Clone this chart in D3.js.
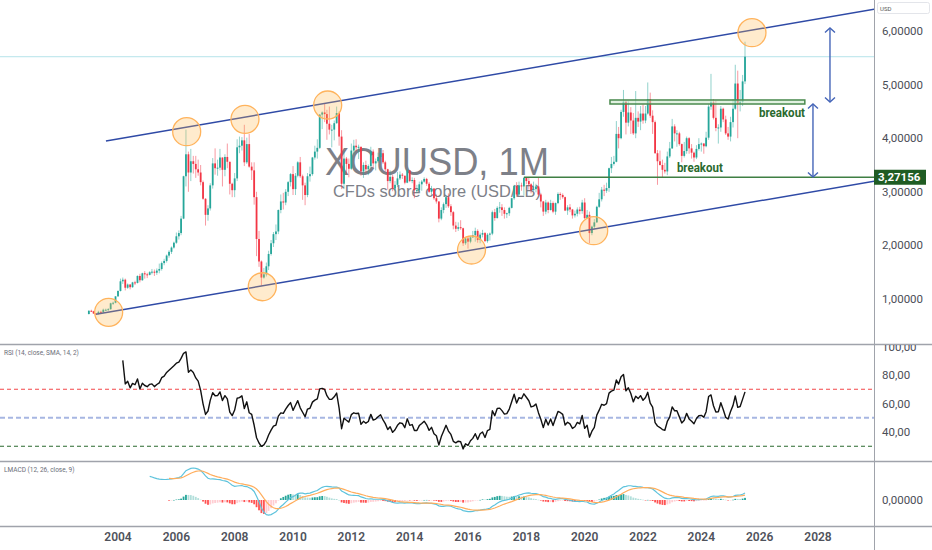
<!DOCTYPE html>
<html><head><meta charset="utf-8">
<script src="https://cdn.jsdelivr.net/npm/d3@7"></script>
<style>html,body{margin:0;padding:0;background:#fff;overflow:hidden}svg{display:block}</style>
</head><body><svg id="c" width="932" height="550"></svg>
<script>
// ---------- DATA (monthly, USD/lb, from Jan 2003) ----------
const firstMonth = "2003-01-01";
const firstOpen = 0.72;
const close = [
0.78,0.77,0.73,0.72,0.76,0.75,0.80,0.80,0.81,0.92,0.93,1.05, // 2003
1.15,1.33,1.36,1.21,1.27,1.22,1.31,1.30,1.43,1.35,1.48,1.46, // 2004
1.45,1.50,1.51,1.49,1.53,1.56,1.67,1.71,1.81,1.88,1.96,2.05, // 2005
2.17,2.23,2.50,3.29,3.70,3.36,3.57,3.52,3.42,3.36,3.18,2.87, // 2006
2.57,2.69,3.12,3.53,3.44,3.45,3.64,3.41,3.65,3.56,3.15,3.03, // 2007
3.25,3.83,3.86,3.96,3.55,3.89,3.47,3.40,2.90,2.12,1.70,1.40, // 2008
1.46,1.61,1.84,2.04,2.21,2.26,2.66,2.82,2.80,3.00,3.18,3.33, // 2009
3.05,3.30,3.55,3.29,3.12,2.94,3.29,3.33,3.64,3.75,3.82,4.44, // 2010
4.48,4.45,4.27,4.16,4.16,4.28,4.47,4.03,3.15,3.62,3.52,3.43, // 2011
3.77,3.86,3.83,3.84,3.38,3.50,3.42,3.48,3.75,3.53,3.57,3.65, // 2012
3.72,3.55,3.42,3.20,3.28,3.06,3.13,3.25,3.32,3.30,3.17,3.40, // 2013
3.20,3.22,3.03,3.03,3.14,3.19,3.24,3.15,3.00,3.06,2.88,2.82, // 2014
2.50,2.66,2.77,2.90,2.73,2.62,2.37,2.31,2.34,2.32,2.04,2.13, // 2015
2.07,2.15,2.19,2.27,2.10,2.20,2.23,2.08,2.20,2.22,2.62,2.51, // 2016
2.70,2.71,2.66,2.59,2.60,2.70,2.88,3.11,2.95,3.12,3.10,3.26, // 2017
3.20,3.14,3.03,3.05,3.10,2.95,2.82,2.63,2.80,2.66,2.79,2.63, // 2018
2.79,2.96,2.94,2.90,2.65,2.71,2.67,2.56,2.59,2.67,2.64,2.80, // 2019
2.51,2.57,2.23,2.35,2.43,2.72,2.86,3.04,3.02,3.07,3.44,3.52, // 2020
3.56,4.08,4.00,4.49,4.68,4.29,4.48,4.33,4.09,4.38,4.31,4.46, // 2021
4.33,4.46,4.73,4.42,4.30,3.72,3.57,3.50,3.41,3.38,3.66,3.81, // 2022
4.22,4.09,4.09,3.89,3.67,3.76,4.00,3.81,3.73,3.64,3.80,3.89, // 2023
3.90,3.85,4.01,4.59,4.67,4.38,4.19,4.20,4.55,4.35,4.09,4.03, // 2024
4.30,4.55,5.02,4.64,4.68,5.06,5.52                          // 2025
];
const high = [
0.79,0.80,0.78,0.74,0.78,0.78,0.82,0.82,0.83,0.93,0.95,1.05,
1.16,1.38,1.40,1.38,1.29,1.28,1.32,1.34,1.44,1.47,1.49,1.52,
1.49,1.52,1.56,1.55,1.57,1.66,1.70,1.75,1.83,1.91,1.98,2.07,
2.24,2.28,2.55,3.30,4.16,3.75,3.80,3.67,3.67,3.60,3.50,3.21,
2.88,2.75,3.16,3.63,3.81,3.60,3.80,3.64,3.70,3.90,3.56,3.17,
3.35,3.98,4.03,4.02,4.25,4.01,4.08,3.55,3.55,3.00,2.27,1.72,
1.58,1.68,1.90,2.10,2.25,2.39,2.67,2.95,2.98,3.05,3.20,3.35,
3.48,3.35,3.57,3.65,3.32,3.17,3.35,3.47,3.65,3.86,3.98,4.45,
4.50,4.64,4.53,4.59,4.25,4.33,4.59,4.50,4.15,3.75,3.65,3.62,
3.90,3.97,3.98,3.88,3.84,3.55,3.58,3.51,3.84,3.79,3.62,3.73,
3.79,3.78,3.58,3.43,3.40,3.32,3.20,3.37,3.38,3.35,3.30,3.42,
3.40,3.27,3.26,3.13,3.19,3.22,3.27,3.26,3.18,3.11,3.07,2.95,
2.82,2.71,2.80,2.93,2.97,2.77,2.64,2.44,2.43,2.47,2.33,2.15,
2.16,2.18,2.27,2.33,2.30,2.24,2.29,2.25,2.23,2.24,2.65,2.68,
2.73,2.81,2.77,2.71,2.61,2.72,2.89,3.13,3.18,3.19,3.17,3.27,
3.27,3.27,3.16,3.19,3.15,3.27,2.98,2.83,2.85,2.82,2.85,2.82,
2.80,2.99,2.99,2.97,2.91,2.75,2.77,2.68,2.65,2.71,2.72,2.85,
2.88,2.66,2.63,2.37,2.49,2.74,2.98,3.09,3.13,3.17,3.45,3.65,
3.67,4.32,4.21,4.53,4.90,4.70,4.69,4.58,4.47,4.88,4.50,4.60,
4.63,4.60,5.04,4.85,4.52,4.33,3.78,3.77,3.60,3.54,3.75,3.93,
4.36,4.26,4.15,4.12,3.90,3.93,4.03,4.02,3.89,3.75,3.87,4.00,
3.92,3.91,4.12,4.63,5.20,4.73,4.70,4.26,4.60,4.57,4.42,4.21,
4.40,4.73,5.37,5.26,4.90,5.18,5.80
];
const low = [
0.71,0.76,0.72,0.70,0.71,0.74,0.74,0.78,0.78,0.80,0.89,0.92,
1.04,1.14,1.28,1.16,1.19,1.18,1.21,1.26,1.29,1.31,1.34,1.38,
1.39,1.44,1.46,1.43,1.45,1.48,1.53,1.63,1.68,1.77,1.84,1.94,
2.03,2.11,2.19,2.49,3.10,3.00,3.20,3.34,3.26,3.30,3.12,2.85,
2.37,2.46,2.65,3.06,3.32,3.30,3.40,3.10,3.29,3.44,2.95,2.90,
2.90,3.20,3.72,3.77,3.48,3.52,3.45,3.22,2.76,1.80,1.60,1.25,
1.38,1.42,1.54,1.81,1.97,2.10,2.21,2.60,2.67,2.75,2.92,3.10,
2.94,2.94,3.27,3.26,2.85,2.75,2.90,3.19,3.30,3.60,3.62,3.80,
4.17,4.30,3.97,4.07,3.83,3.96,4.27,3.86,3.05,3.05,3.32,3.27,
3.41,3.70,3.76,3.61,3.30,3.26,3.36,3.31,3.43,3.44,3.40,3.54,
3.62,3.52,3.37,3.04,3.16,3.01,3.02,3.09,3.22,3.24,3.14,3.16,
3.18,3.16,2.88,2.98,3.00,3.02,3.17,3.11,2.98,2.95,2.85,2.78,
2.43,2.47,2.60,2.70,2.70,2.55,2.30,2.25,2.27,2.29,1.99,2.01,
1.94,2.04,2.14,2.07,2.05,2.04,2.15,2.06,2.05,2.09,2.19,2.46,
2.50,2.61,2.55,2.50,2.51,2.55,2.69,2.85,2.91,2.93,3.02,2.93,
3.14,3.04,2.97,3.02,2.99,2.93,2.71,2.55,2.58,2.60,2.65,2.60,
2.57,2.77,2.85,2.87,2.64,2.57,2.62,2.50,2.52,2.54,2.58,2.59,
2.49,2.50,2.04,2.19,2.30,2.42,2.70,2.82,2.92,2.98,3.00,3.35,
3.49,3.55,3.81,3.98,4.40,4.07,4.22,4.08,4.06,4.00,4.21,4.15,
4.27,4.28,4.44,4.38,4.08,3.71,3.13,3.49,3.26,3.34,3.31,3.63,
3.80,3.94,3.84,3.86,3.55,3.64,3.71,3.71,3.62,3.56,3.61,3.77,
3.75,3.71,3.83,3.97,4.53,4.35,4.13,3.90,4.12,4.30,4.06,3.97,
3.94,4.20,4.53,4.00,4.50,4.60,5.01
];
const priceTicks = [1,2,3,4,5,6];
const rsiTicks = [40,60,80,100];
const macdTicks = [0];
const yearTicks = [2004,2006,2008,2010,2012,2014,2016,2018,2020,2022,2024,2026,2028];
const rsiLevels = [70,50,30];
const levelPrice = 3.27156;
const levelStart = "2017-12-01";
const channelTop = [["2003-08-03",3.948],["2029-12-14",6.41]];
const channelBottom = [["2003-04-01",0.715],["2029-12-14",3.20]];
const circleMarks = [["2003-09-06",0.752],["2006-05-10",4.121],["2008-05-09",4.353],["2011-03-11",4.619],
  ["2008-12-12",1.229],["2016-02-14",1.914],["2020-04-23",2.274],["2025-09-26",5.968]];
const zone = {from:"2020-11-13", to:"2027-07-20", top:4.713, bottom:4.638};
const arrows = [["2028-05-30",6.056,4.675],["2027-10-30",4.638,3.276]];
const labels = [["2025-12-23",4.396,"breakout"],["2023-03-01",3.369,"breakout"]];
const title = "XCUUSD, 1M";
const subtitle = "CFDs sobre cobre (USD/LB)";

// ---------- SETUP ----------
const svg = d3.select("#c");
const parse = d3.timeParse("%Y-%m-%d");
const W = 932, AX = 874;
const x = d3.scaleTime().domain([new Date(2004,0,1), new Date(2028,0,1)]).range([118, 818]);
const yP = d3.scaleLinear().domain([1,6]).range([299,31]);
const yR = d3.scaleLinear().domain([40,80]).range([432,375]);
const t0 = parse(firstMonth);
const dates = close.map((d,i)=>d3.timeMonth.offset(t0,i));
const bars = close.map((c,i)=>({d:dates[i], o: i? close[i-1]:firstOpen, c, h:high[i], l:low[i]}));

// indicators
const rsi = []; {let ag=0, al=0;
 for (let i=1;i<close.length;i++){const ch=close[i]-close[i-1];const g=Math.max(ch,0), l=Math.max(-ch,0);
  if(i<=14){ag+=g;al+=l; if(i===14){ag/=14;al/=14; rsi[i]=al===0?100:100-100/(1+ag/al);} }
  else {ag=(ag*13+g)/14; al=(al*13+l)/14; rsi[i]=al===0?100:100-100/(1+ag/al);} }}
function ema(arr,len){const out=[];let prev=null,sum=0,cnt=0,a=2/(len+1);
 arr.forEach((v,i)=>{ if(v==null){out[i]=null;return;}
  if(prev==null){sum+=v;cnt++; if(cnt===len){prev=sum/len;out[i]=prev;} else out[i]=null;}
  else {prev=a*v+(1-a)*prev; out[i]=prev;} }); return out;}
const lc = close.map(Math.log);
const e12 = ema(lc,12), e26 = ema(lc,26);
const macd = lc.map((v,i)=> (e12[i]!=null && e26[i]!=null)? e12[i]-e26[i] : null);
const sig = ema(macd,9);
const hist = macd.map((v,i)=> (v!=null && sig[i]!=null)? v-sig[i] : null);
const yM = d3.scaleLinear().domain([0, d3.max(macd.filter(v=>v!=null))]).range([500,468]);

// clips
const defs = svg.append("defs");
[["cm",0,0,AX,344],["cr",0,345,AX,116],["cd",0,462,AX,64]].forEach(([id,x0,y0,w,h])=>
 defs.append("clipPath").attr("id",id).append("rect").attr("x",x0).attr("y",y0).attr("width",w).attr("height",h));

// ---------- MAIN PANE ----------
const main = svg.append("g").attr("clip-path","url(#cm)");
main.append("text").attr("x",437).attr("y",175).attr("text-anchor","middle")
 .attr("font-family","Liberation Sans, Arial, sans-serif").attr("font-size",38).attr("fill","#7d8088")
 .attr("textLength",224).attr("lengthAdjust","spacingAndGlyphs").text(title);
main.append("text").attr("x",437).attr("y",196.5).attr("text-anchor","middle")
 .attr("font-family","Liberation Sans, Arial, sans-serif").attr("font-size",17).attr("fill","#7d8088")
 .attr("textLength",208).attr("lengthAdjust","spacingAndGlyphs").text(subtitle);
// last price line
main.append("line").attr("x1",0).attr("x2",AX).attr("y1",yP(close[close.length-1])).attr("y2",yP(close[close.length-1]))
 .attr("stroke","#b5e3ea").attr("stroke-width",1);
// candles
const up="#26a69a", dn="#f23645";
const cg = main.append("g");
cg.selectAll("line.w").data(bars).join("line").attr("class","w")
 .attr("x1",d=>x(d.d)).attr("x2",d=>x(d.d)).attr("y1",d=>yP(d.h)).attr("y2",d=>yP(d.l))
 .attr("stroke",d=>d.c>=d.o?up:dn).attr("stroke-opacity",0.5).attr("stroke-width",1);
cg.selectAll("rect.b").data(bars).join("rect").attr("class","b")
 .attr("x",d=>x(d.d)-0.9).attr("width",1.8)
 .attr("y",d=>yP(Math.max(d.o,d.c))).attr("height",d=>Math.max(1,Math.abs(yP(d.o)-yP(d.c))))
 .attr("fill",d=>d.c>=d.o?up:dn);
// channel
[channelTop,channelBottom].forEach(ch=>{
 main.append("line").attr("x1",x(parse(ch[0][0]))).attr("y1",yP(ch[0][1])).attr("x2",x(parse(ch[1][0]))).attr("y2",yP(ch[1][1]))
  .attr("stroke","#2f4aa6").attr("stroke-width",1.5);
});
// circles
main.selectAll("circle.m").data(circleMarks).join("circle").attr("class","m")
 .attr("cx",d=>x(parse(d[0]))).attr("cy",d=>yP(d[1])).attr("r",14)
 .attr("fill","rgba(255,183,77,0.28)").attr("stroke","#ffb35c").attr("stroke-width",1.3);
// breakout zone
main.append("rect").attr("x",x(parse(zone.from))).attr("y",yP(zone.top))
 .attr("width",x(parse(zone.to))-x(parse(zone.from))).attr("height",yP(zone.bottom)-yP(zone.top))
 .attr("fill","rgba(200,230,201,0.55)").attr("stroke","#4a8a4e").attr("stroke-width",1.5);
// level line
main.append("line").attr("x1",x(parse(levelStart))).attr("x2",AX).attr("y1",yP(levelPrice)).attr("y2",yP(levelPrice))
 .attr("stroke","#3f7f43").attr("stroke-width",1.5);
// arrows
arrows.forEach(([d,p1,p2])=>{
 const ax=x(parse(d)), y1=yP(p1), y2=yP(p2);
 const g=main.append("g").attr("stroke","#4565b8").attr("stroke-width",1.4).attr("fill","none");
 g.append("line").attr("x1",ax).attr("x2",ax).attr("y1",y1).attr("y2",y2);
 g.append("path").attr("d",`M${ax-5},${y1+4.5}L${ax},${y1}L${ax+5},${y1+4.5}`);
 g.append("path").attr("d",`M${ax-5},${y2-4.5}L${ax},${y2}L${ax+5},${y2-4.5}`);
});
// labels
main.selectAll("text.lb").data(labels).join("text").attr("class","lb")
 .attr("x",d=>x(parse(d[0]))).attr("y",d=>yP(d[1])).attr("font-family","Roboto, sans-serif")
 .attr("font-weight","bold").attr("font-size",12).attr("fill","#2a6a2e")
 .attr("textLength",46).attr("lengthAdjust","spacingAndGlyphs").text(d=>d[2]);

// ---------- RSI PANE ----------
const rp = svg.append("g").attr("clip-path","url(#cr)");
const lvlStyle = {70:["#f4474a","4,3",1.2],50:["#a7b6e2","5,3",2],30:["#2b6a2f","4,3",1.2]};
rsiLevels.forEach(v=>{const s=lvlStyle[v];
 rp.append("line").attr("x1",0).attr("x2",AX).attr("y1",yR(v)).attr("y2",yR(v))
  .attr("stroke",s[0]).attr("stroke-dasharray",s[1]).attr("stroke-width",s[2]);});
const rsiPts = rsi.map((v,i)=>v==null?null:[dates[i],v]).filter(Boolean);
rp.append("path").attr("d",d3.line().x(d=>x(d[0])).y(d=>yR(d[1]))(rsiPts))
 .attr("fill","none").attr("stroke","#111").attr("stroke-width",1.4).attr("stroke-linejoin","round");
svg.append("text").attr("x",4).attr("y",355).attr("font-family","Roboto, sans-serif").attr("font-size",6.5)
 .attr("fill","#6a6d78").text("RSI (14, close, SMA, 14, 2)");

// ---------- LMACD PANE ----------
const mp = svg.append("g").attr("clip-path","url(#cd)");
const hb = hist.map((v,i)=>v==null?null:{d:dates[i],v,p:hist[i-1]}).filter(Boolean);
mp.selectAll("rect.h").data(hb).join("rect").attr("class","h")
 .attr("x",d=>x(d.d)-0.9).attr("width",1.8)
 .attr("y",d=>Math.min(yM(0),yM(d.v))).attr("height",d=>Math.max(0.5,Math.abs(yM(d.v)-yM(0))))
 .attr("fill",d=>{const grow = d.p!=null && d.p<d.v;
   return d.v>=0 ? (grow?"#26a69a":"#b2dfdb") : (grow?"#ffcdd2":"#ff5252");});
const lineM = d3.line().x(d=>x(d[0])).y(d=>yM(d[1]));
mp.append("path").attr("d",lineM(macd.map((v,i)=>v==null?null:[dates[i],v]).filter(Boolean)))
 .attr("fill","none").attr("stroke","#5ec3dc").attr("stroke-width",1.2);
mp.append("path").attr("d",lineM(sig.map((v,i)=>v==null?null:[dates[i],v]).filter(Boolean)))
 .attr("fill","none").attr("stroke","#ffad5c").attr("stroke-width",1.2);
svg.append("text").attr("x",4).attr("y",472).attr("font-family","Roboto, sans-serif").attr("font-size",6.5)
 .attr("fill","#6a6d78").text("LMACD (12, 26, close, 9)");

// ---------- FRAME & AXES ----------
const frame="#a0a3ab";
[344.5,461.5,526.5].forEach(yy=>svg.append("line").attr("x1",0).attr("x2",W).attr("y1",yy).attr("y2",yy)
 .attr("stroke",frame).attr("stroke-width",1.5));
svg.append("line").attr("x1",AX+0.5).attr("x2",AX+0.5).attr("y1",0).attr("y2",550).attr("stroke",frame).attr("stroke-width",1);
const axFont = "Roboto, sans-serif", axCol="#4b4e57";
const fmt = n => d3.format(".5f")(n).replace(".",",");
const fmt2 = n => d3.format(".2f")(n).replace(".",",");
svg.selectAll("text.pt").data(priceTicks).join("text").attr("class","pt").attr("x",882).attr("y",d=>yP(d)+4)
 .attr("font-family",axFont).attr("font-size",11.5).attr("fill",axCol).text(fmt);
const rg = svg.append("g").attr("clip-path","url(#cr2)");
defs.append("clipPath").attr("id","cr2").append("rect").attr("x",AX).attr("y",345).attr("width",60).attr("height",116);
rg.selectAll("text").data(rsiTicks).join("text").attr("x",882).attr("y",d=>yR(d)+4)
 .attr("font-family",axFont).attr("font-size",11.5).attr("fill",axCol).text(fmt2);
svg.selectAll("text.mt").data(macdTicks).join("text").attr("class","mt").attr("x",882).attr("y",d=>yM(d)+4)
 .attr("font-family",axFont).attr("font-size",11.5).attr("fill",axCol).text(fmt);
svg.selectAll("text.yt").data(yearTicks).join("text").attr("class","yt")
 .attr("x",d=>x(new Date(d,0,1))).attr("y",541).attr("text-anchor","middle")
 .attr("font-family",axFont).attr("font-size",12).attr("font-weight",600).attr("fill","#50535c").text(d=>d);
// level price label
svg.append("rect").attr("x",AX).attr("y",yP(levelPrice)-7.5).attr("width",52).attr("height",15).attr("fill","#1f5c23");
svg.append("text").attr("x",878).attr("y",yP(levelPrice)+4).attr("font-family",axFont).attr("font-weight","bold")
 .attr("font-size",11.5).attr("fill","#fff").text(fmt(levelPrice));
// USD box
svg.append("rect").attr("x",877.5).attr("y",2.5).attr("width",52).attr("height",11).attr("rx",2)
 .attr("fill","#fff").attr("stroke","#e3e5ea");
svg.append("text").attr("x",880).attr("y",10.5).attr("font-family",axFont).attr("font-size",6).attr("fill","#555").text("USD");
</script></body></html>
